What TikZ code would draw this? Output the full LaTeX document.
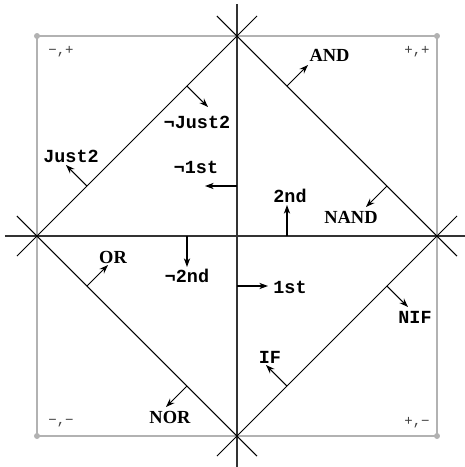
\documentclass[tikz,border=0pt]{standalone}
\usepackage{fontspec}
\setmonofont{Liberation Mono}
\newfontfamily\gatefont{Liberation Serif}
\usetikzlibrary{arrows.meta}

\begin{document}
\begin{tikzpicture}[
    axis/.style={line width=1pt, black!80},
    edge/.style={line width=0.6pt, shorten <=-0.566cm, shorten >=-0.566cm},
    frame/.style={black!30, line width=0.6pt},
    pointer/.style={-{Stealth[length=5pt,width=3.6pt]}, line width=0.6pt},
    lbl/.style={font=\ttfamily\bfseries\fontsize{10.5}{12}\selectfont, inner sep=0pt},
    gate/.style={font=\gatefont\bfseries\fontsize{10.5}{12}\selectfont, inner sep=0pt},
    quad/.style={font=\ttfamily\fontsize{8}{9}\selectfont, black!75, inner sep=0pt}
]
\useasboundingbox (-4.74,-4.62) rectangle (4.56,4.72);

% quadrant frame
\draw[frame] (-4,-4) rectangle (4,4);
\foreach \cx/\cy in {-4/-4, -4/4, 4/-4, 4/4}
    \fill[black!30] (\cx,\cy) circle (0.06);
\node[quad] (mp) at (-3.52,3.68) {−,+};
\node[quad] (pp) at (3.6,3.68) {+,+};
\node[quad] (mm) at (-3.52,-3.74) {−,−};
\node[quad] (pm) at (3.6,-3.74) {+,−};

% axes
\coordinate (west) at (-4.64,0);
\coordinate (east) at (4.56,0);
\coordinate (north) at (0,4.64);
\coordinate (south) at (0,-4.62);
\draw[axis] (west) -- (east);
\draw[axis] (north) -- (south);

% diamond
\coordinate (top) at (0,4);
\coordinate (left) at (-4,0);
\coordinate (right) at (4,0);
\coordinate (bottom) at (0,-4);
\draw[edge] (left) -- (top);
\draw[edge] (top) -- (right);
\draw[edge] (right) -- (bottom);
\draw[edge] (bottom) -- (left);

% upper left
\coordinate (njust2base) at (-1,3);
\coordinate (njust2tip) at (-0.58,2.58);
\node[lbl] (njust2) at (-0.8,2.28) {¬Just2};
\draw[pointer] (njust2base) -- (njust2tip);

\coordinate (just2base) at (-3,1);
\coordinate (just2tip) at (-3.42,1.42);
\node[lbl] (just2) at (-3.32,1.6) {Just2};
\draw[pointer] (just2base) -- (just2tip);

\coordinate (n1stbase) at (0,1);
\coordinate (n1sttip) at (-0.64,1);
\node[lbl] (n1st) at (-0.82,1.38) {¬1st};
\draw[pointer] (n1stbase) -- (n1sttip);

% upper right
\coordinate (andbase) at (1,3);
\coordinate (andtip) at (1.42,3.42);
\node[gate] (and) at (1.85,3.62) {AND};
\draw[pointer] (andbase) -- (andtip);

\coordinate (nandbase) at (3,1);
\coordinate (nandtip) at (2.58,0.58);
\node[gate] (nand) at (2.28,0.38) {NAND};
\draw[pointer] (nandbase) -- (nandtip);

\coordinate (2ndbase) at (1,0);
\coordinate (2ndtip) at (1,0.62);
\node[lbl] (2nd) at (1.06,0.8) {2nd};
\draw[pointer] (2ndbase) -- (2ndtip);

% lower left
\coordinate (orbase) at (-3,-1);
\coordinate (ortip) at (-2.58,-0.58);
\node[gate] (or) at (-2.48,-0.42) {OR};
\draw[pointer] (orbase) -- (ortip);

\coordinate (n2ndbase) at (-1,0);
\coordinate (n2ndtip) at (-1,-0.62);
\node[lbl] (n2nd) at (-1,-0.8) {¬2nd};
\draw[pointer] (n2ndbase) -- (n2ndtip);

\coordinate (norbase) at (-1,-3);
\coordinate (nortip) at (-1.42,-3.42);
\node[gate] (nor) at (-1.34,-3.62) {NOR};
\draw[pointer] (norbase) -- (nortip);

% lower right
\coordinate (1stbase) at (0,-1);
\coordinate (1sttip) at (0.62,-1);
\node[lbl] (1st) at (1.06,-1.02) {1st};
\draw[pointer] (1stbase) -- (1sttip);

\coordinate (nifbase) at (3,-1);
\coordinate (niftip) at (3.42,-1.42);
\node[lbl] (nif) at (3.56,-1.62) {NIF};
\draw[pointer] (nifbase) -- (niftip);

\coordinate (ifbase) at (1,-3);
\coordinate (iftip) at (0.58,-2.58);
\node[lbl] (if) at (0.66,-2.42) {IF};
\draw[pointer] (ifbase) -- (iftip);

\end{tikzpicture}
\end{document}
